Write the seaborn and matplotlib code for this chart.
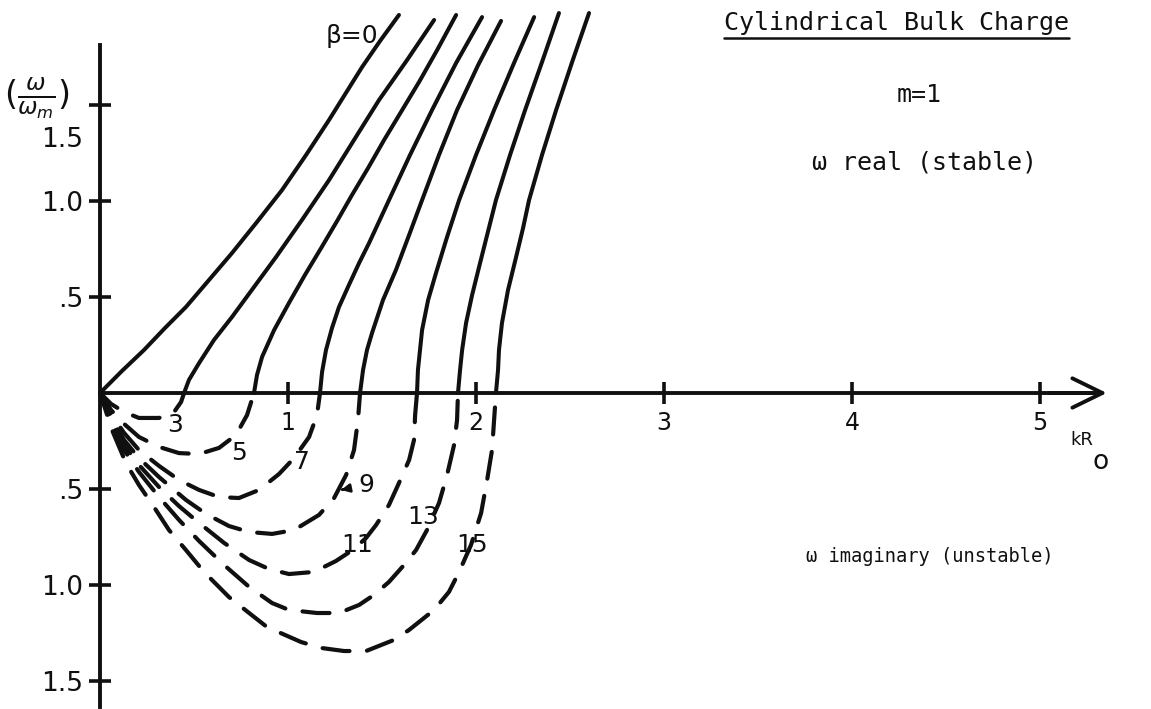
import matplotlib
matplotlib.use("Agg")
import matplotlib.pyplot as plt
from matplotlib import transforms
from matplotlib.lines import Line2D
import pandas as pd
import seaborn as sns

# ---------------------------------------------------------------
# Cylindrical bulk charge, m = 1: normalized frequency w/w_m vs kR_o
# ---------------------------------------------------------------
beta_values = [0, 3, 5, 7, 9, 11, 13, 15]

# omega real (stable branch) -- solid curves
k_real_0 = [0.0, 0.117, 0.234, 0.346, 0.457, 0.580, 0.702, 0.835, 0.968, 1.096,
            1.218, 1.394, 1.489, 1.590]
w_real_0 = [0.0, 0.115, 0.224, 0.339, 0.448, 0.589, 0.729, 0.891, 1.057, 1.240,
            1.422, 1.698, 1.833, 1.969]
k_real_3 = [0.447, 0.473, 0.527, 0.606, 0.702, 0.819, 0.936, 1.074, 1.218, 1.351,
            1.484, 1.633, 1.777]
w_real_3 = [0.0, 0.068, 0.156, 0.276, 0.396, 0.552, 0.708, 0.901, 1.109, 1.318,
            1.526, 1.734, 1.943]
k_real_5 = [0.819, 0.835, 0.862, 0.926, 1.005, 1.090, 1.176, 1.261, 1.340, 1.426,
            1.511, 1.601, 1.697, 1.793, 1.894]
w_real_5 = [0.0, 0.094, 0.188, 0.328, 0.469, 0.615, 0.755, 0.896, 1.031, 1.172,
            1.318, 1.464, 1.620, 1.786, 1.969]
k_real_7 = [1.170, 1.181, 1.202, 1.234, 1.271, 1.324, 1.378, 1.431, 1.537, 1.649,
            1.766, 1.894, 2.032]
w_real_7 = [0.0, 0.109, 0.224, 0.339, 0.448, 0.563, 0.677, 0.781, 1.005, 1.240,
            1.474, 1.719, 1.958]
k_real_9 = [1.383, 1.399, 1.420, 1.447, 1.505, 1.574, 1.644, 1.713, 1.803, 1.899,
            2.011, 2.133]
w_real_9 = [0.0, 0.120, 0.224, 0.313, 0.484, 0.641, 0.823, 1.005, 1.240, 1.474,
            1.708, 1.938]
k_real_11 = [1.686, 1.691, 1.702, 1.713, 1.745, 1.787, 1.846, 1.910, 2.000, 2.096,
             2.202, 2.309]
w_real_11 = [0.0, 0.120, 0.224, 0.328, 0.484, 0.625, 0.813, 1.005, 1.240, 1.474,
             1.719, 1.958]
k_real_13 = [1.904, 1.915, 1.926, 1.947, 1.979, 2.016, 2.059, 2.106, 2.181, 2.261,
             2.351, 2.441]
w_real_13 = [0.0, 0.120, 0.224, 0.365, 0.510, 0.656, 0.823, 1.005, 1.240, 1.474,
             1.724, 1.979]
k_real_15 = [2.106, 2.117, 2.122, 2.138, 2.170, 2.213, 2.250, 2.282, 2.351, 2.426,
             2.511, 2.601]
w_real_15 = [0.0, 0.120, 0.224, 0.365, 0.536, 0.708, 0.859, 1.005, 1.240, 1.474,
             1.724, 1.979]

# omega imaginary (unstable branch) -- growth rate magnitude, dashed curves
k_imag_3 = [0.0, 0.059, 0.128, 0.207, 0.314, 0.394, 0.431, 0.447]
w_imag_3 = [0.0, 0.057, 0.099, 0.130, 0.130, 0.099, 0.047, 0.0]
k_imag_5 = [0.0, 0.059, 0.128, 0.207, 0.314, 0.420, 0.527, 0.633, 0.723, 0.782, 0.819]
w_imag_5 = [0.0, 0.089, 0.161, 0.229, 0.281, 0.313, 0.318, 0.286, 0.219, 0.115, 0.0]
k_imag_7 = [0.0, 0.059, 0.128, 0.207, 0.314, 0.420, 0.527, 0.633, 0.739, 0.846,
            0.952, 1.032, 1.112, 1.154, 1.170]
w_imag_7 = [0.0, 0.109, 0.208, 0.297, 0.380, 0.453, 0.505, 0.542, 0.547, 0.505,
            0.422, 0.339, 0.229, 0.115, 0.0]
k_imag_9 = [0.0, 0.059, 0.128, 0.207, 0.314, 0.457, 0.564, 0.686, 0.793, 0.915,
            1.032, 1.165, 1.245, 1.309, 1.351, 1.372, 1.383]
w_imag_9 = [0.0, 0.130, 0.245, 0.339, 0.438, 0.557, 0.630, 0.693, 0.724, 0.734,
            0.714, 0.635, 0.547, 0.427, 0.297, 0.141, 0.0]
k_imag_11 = [0.0, 0.064, 0.128, 0.207, 0.314, 0.420, 0.527, 0.660, 0.793, 0.899,
             1.005, 1.138, 1.255, 1.351, 1.415, 1.468, 1.537, 1.590, 1.644, 1.670,
             1.676, 1.686]
w_imag_11 = [0.0, 0.151, 0.271, 0.375, 0.490, 0.589, 0.677, 0.781, 0.870, 0.917,
             0.943, 0.932, 0.875, 0.813, 0.755, 0.688, 0.583, 0.469, 0.349, 0.245,
             0.115, 0.0]
k_imag_13 = [0.0, 0.064, 0.128, 0.207, 0.314, 0.420, 0.527, 0.660, 0.793, 0.915,
             1.005, 1.154, 1.271, 1.378, 1.457, 1.537, 1.617, 1.681, 1.739, 1.803,
             1.846, 1.883, 1.899, 1.904]
w_imag_13 = [0.0, 0.167, 0.297, 0.411, 0.542, 0.661, 0.771, 0.896, 1.010, 1.094,
             1.130, 1.146, 1.146, 1.104, 1.052, 0.984, 0.896, 0.818, 0.714, 0.573,
             0.427, 0.271, 0.141, 0.0]
k_imag_15 = [0.0, 0.064, 0.138, 0.207, 0.287, 0.367, 0.457, 0.553, 0.686, 0.793,
             0.888, 1.069, 1.176, 1.298, 1.415, 1.564, 1.644, 1.777, 1.856, 1.910,
             1.973, 2.027, 2.059, 2.085, 2.096, 2.106]
w_imag_15 = [0.0, 0.193, 0.365, 0.479, 0.594, 0.714, 0.818, 0.932, 1.063, 1.146,
             1.219, 1.297, 1.328, 1.344, 1.344, 1.286, 1.234, 1.130, 1.036, 0.932,
             0.792, 0.625, 0.453, 0.297, 0.141, 0.0]

x_ticks = [1, 2, 3, 4, 5]
x_tick_labels = ["1", "2", "3", "4", "5"]
y_ticks = [-1.5, -1.0, -0.5, 0.5, 1.0, 1.5]
y_tick_labels = ["1.5", "1.0", ".5", ".5", "1.0", "1.5"]

real_curves = {
    0: (k_real_0, w_real_0), 3: (k_real_3, w_real_3), 5: (k_real_5, w_real_5),
    7: (k_real_7, w_real_7), 9: (k_real_9, w_real_9), 11: (k_real_11, w_real_11),
    13: (k_real_13, w_real_13), 15: (k_real_15, w_real_15),
}
imag_curves = {
    3: (k_imag_3, w_imag_3), 5: (k_imag_5, w_imag_5), 7: (k_imag_7, w_imag_7),
    9: (k_imag_9, w_imag_9), 11: (k_imag_11, w_imag_11),
    13: (k_imag_13, w_imag_13), 15: (k_imag_15, w_imag_15),
}

rows = []
for b, (ks, ws) in real_curves.items():
    for i, (k, w) in enumerate(zip(ks, ws)):
        rows.append(dict(beta=b, branch="real", order=i, kR=k, w=w))
for b, (ks, ws) in imag_curves.items():
    for i, (k, w) in enumerate(zip(ks, ws)):
        # growth rates are plotted below the kR axis
        rows.append(dict(beta=b, branch="imag", order=i, kR=k, w=-w))
df = pd.DataFrame(rows)

sns.set_theme(style="white")
plt.rcParams["font.family"] = ["DejaVu Sans"]

INK = "#101010"
fig = plt.figure(figsize=(11.51, 7.09), dpi=100)
ax = fig.add_axes([0, 0, 1, 1])
ax.set_facecolor("white")

for (b, branch), sub in df.groupby(["beta", "branch"], sort=False):
    sub = sub.sort_values("order")
    if branch == "real":
        sns.lineplot(data=sub, x="kR", y="w", sort=False, estimator=None, ax=ax,
                     color=INK, linewidth=2.9, solid_capstyle="round",
                     solid_joinstyle="round")
    else:
        sns.lineplot(data=sub, x="kR", y="w", sort=False, estimator=None, ax=ax,
                     color=INK, linewidth=3.0, linestyle=(1, (6.5, 4.2)),
                     dash_capstyle="round", dash_joinstyle="round")

ax.set_xlim(-0.532, 5.590)
ax.set_ylim(-1.646, 2.047)
ax.set_xlabel("")
ax.set_ylabel("")

# axes crossing at the origin
for side in ("top", "right"):
    ax.spines[side].set_visible(False)
ax.spines["left"].set_position(("data", 0))
ax.spines["bottom"].set_position(("data", 0))
ax.spines["left"].set_bounds(-1.635, 1.812)
ax.spines["bottom"].set_bounds(0, 5.30)
for side in ("left", "bottom"):
    ax.spines[side].set_color(INK)
    ax.spines[side].set_linewidth(2.8)
    ax.spines[side].set_zorder(1)
ax.annotate("", xy=(5.355, 0), xytext=(5.05, 0),
            arrowprops=dict(arrowstyle="->,head_length=0.45,head_width=0.22",
                            mutation_scale=48, lw=2.8, color=INK,
                            shrinkA=0, shrinkB=0))

ax.set_xticks(x_ticks)
ax.set_xticklabels(x_tick_labels)
ax.set_yticks(y_ticks)
ax.set_yticklabels(y_tick_labels)
ax.tick_params(axis="both", direction="inout", length=16, width=2.6, color=INK,
               labelcolor=INK)
ax.tick_params(axis="x", pad=5, labelsize=17)
ax.tick_params(axis="y", pad=4, labelsize=19)
ax.tick_params(left=True, bottom=True)
ax.grid(False)

# the topmost label sits a little below its tick
top_label = ax.get_yticklabels()[-1]
top_label.set_transform(top_label.get_transform() +
                        transforms.ScaledTranslation(0, -0.32, fig.dpi_scale_trans))

# axis titles
ax.text(-0.335, 1.535, r"$(\frac{\omega}{\omega_m})$", fontsize=24, color=INK,
        ha="center", va="center")
ax.text(5.223, -0.245, "kR", fontsize=13, color=INK, ha="center", va="center")
ax.text(5.324, -0.359, "o", fontsize=19, color=INK, ha="center", va="center")

# curve parameters
ax.text(1.340, 1.859, "β=0", fontsize=18, color=INK, ha="center", va="center")
curve_tags = [("3", 0.399, -0.167), ("5", 0.739, -0.313), ("7", 1.074, -0.359),
              ("13", 1.718, -0.646), ("11", 1.367, -0.792), ("15", 1.979, -0.792)]
for txt, x, y in curve_tags:
    ax.text(x, y, txt, fontsize=18, color=INK, ha="center", va="center")
ax.annotate("9", xy=(1.282, -0.505), xytext=(1.415, -0.479), fontsize=18,
            color=INK, ha="center", va="center",
            arrowprops=dict(arrowstyle="-|>", lw=2, color=INK,
                            mutation_scale=12, shrinkA=9, shrinkB=0))

# annotations on the right
mono = "DejaVu Sans Mono"
title = ax.text(4.239, 1.927, "Cylindrical Bulk Charge", fontsize=18,
                family=mono, color=INK, ha="center", va="center")
ax.text(4.356, 1.552, "m=1", fontsize=18, family=mono, color=INK,
        ha="center", va="center")
ax.text(4.383, 1.198, "ω real (stable)", fontsize=18, family=mono, color=INK,
        ha="center", va="center")
ax.text(4.415, -0.854, "ω imaginary (unstable)", fontsize=13.5, family=mono,
        color=INK, ha="center", va="center")

# underline the heading
fig.canvas.draw()
bb = title.get_window_extent()
fig.add_artist(Line2D([bb.x0, bb.x1], [bb.y0 - 3, bb.y0 - 3],
                      transform=None, color=INK, lw=1.8))

fig.savefig("out.png", dpi=100, facecolor="white")
